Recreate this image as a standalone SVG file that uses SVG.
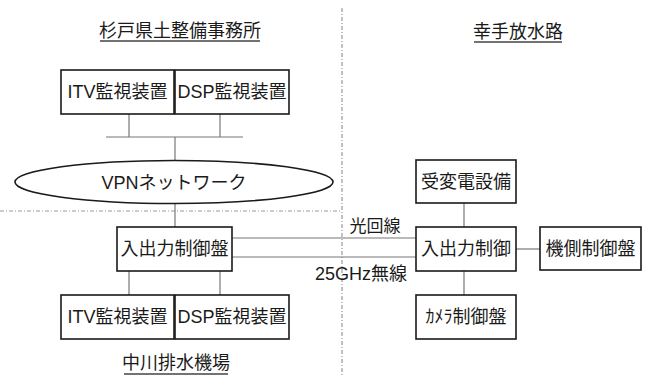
<svg xmlns="http://www.w3.org/2000/svg" width="650" height="376" viewBox="0 0 650 376">
<style>
text{font-family:"Liberation Sans","Noto Sans CJK JP",sans-serif;font-size:18px;fill:#1a1a1a;text-anchor:middle}
.box{fill:#fff;stroke:#1a1a1a;stroke-width:1.6}
.con{stroke:#777;stroke-width:1.2;fill:none}
.div{stroke:#999;stroke-width:1.2;stroke-dasharray:4 2 1 2;fill:none}
.ul{stroke:#444;stroke-width:1.5}
</style>
<rect width="650" height="376" fill="#fff"/>
<g id="dividers">
<line class="div" x1="342" y1="8" x2="342" y2="376"/>
<line class="div" x1="0" y1="211" x2="342" y2="211"/>
</g>
<g id="titles">
<text x="180" y="37">杉戸県土整備事務所</text>
<line class="ul" x1="100" y1="41" x2="260" y2="41"/>
<text x="518" y="38">幸手放水路</text>
<line class="ul" x1="474" y1="42" x2="562" y2="42"/>
<text x="176" y="369">中川排水機場</text>
<line class="ul" x1="124" y1="374" x2="228" y2="374"/>
</g>
<g id="connectors">
<line class="con" x1="129" y1="114" x2="129" y2="137"/>
<line class="con" x1="220" y1="114" x2="220" y2="137"/>
<line class="con" x1="106" y1="137" x2="243" y2="137"/>
<line class="con" x1="175" y1="137" x2="175" y2="161"/>
<line class="con" x1="175" y1="204" x2="175" y2="227"/>
<line class="con" x1="232" y1="238" x2="416" y2="238"/>
<line class="con" x1="232" y1="257" x2="416" y2="257"/>
<line class="con" x1="129" y1="271" x2="129" y2="295"/>
<line class="con" x1="220" y1="271" x2="220" y2="295"/>
<line class="con" x1="464" y1="203" x2="464" y2="227"/>
<line class="con" x1="516" y1="249" x2="540" y2="249"/>
<line class="con" x1="464" y1="271" x2="464" y2="295"/>
<text x="375" y="232" style="font-size:17px">光回線</text>
<text x="361" y="280">25GHz無線</text>
</g>
<g id="itv-top"><rect class="box" x="61" y="70" width="113" height="44"/><text x="117.5" y="98">ITV監視装置</text></g>
<g id="dsp-top"><rect class="box" x="175" y="70" width="114" height="44"/><text x="232" y="98">DSP監視装置</text></g>
<g id="vpn"><ellipse cx="174" cy="182" rx="159" ry="21.5" fill="#fff" stroke="#1a1a1a" stroke-width="1.6"/><text x="174" y="189">VPNネットワーク</text></g>
<g id="io-left"><rect class="box" x="117" y="227" width="115" height="44"/><text x="174.5" y="255">入出力制御盤</text></g>
<g id="itv-bottom"><rect class="box" x="61" y="295" width="113" height="44"/><text x="117.5" y="323">ITV監視装置</text></g>
<g id="dsp-bottom"><rect class="box" x="175" y="295" width="114" height="44"/><text x="232" y="323">DSP監視装置</text></g>
<g id="substation"><rect class="box" x="416" y="160" width="100" height="43"/><text x="466" y="188">受変電設備</text></g>
<g id="io-right"><rect class="box" x="416" y="227" width="100" height="44"/><text x="466" y="255">入出力制御</text></g>
<g id="machine"><rect class="box" x="540" y="227" width="101" height="43"/><text x="590.5" y="255">機側制御盤</text></g>
<g id="camera"><rect class="box" x="416" y="295" width="100" height="44"/><text x="466" y="323">ｶﾒﾗ制御盤</text></g>
</svg>
